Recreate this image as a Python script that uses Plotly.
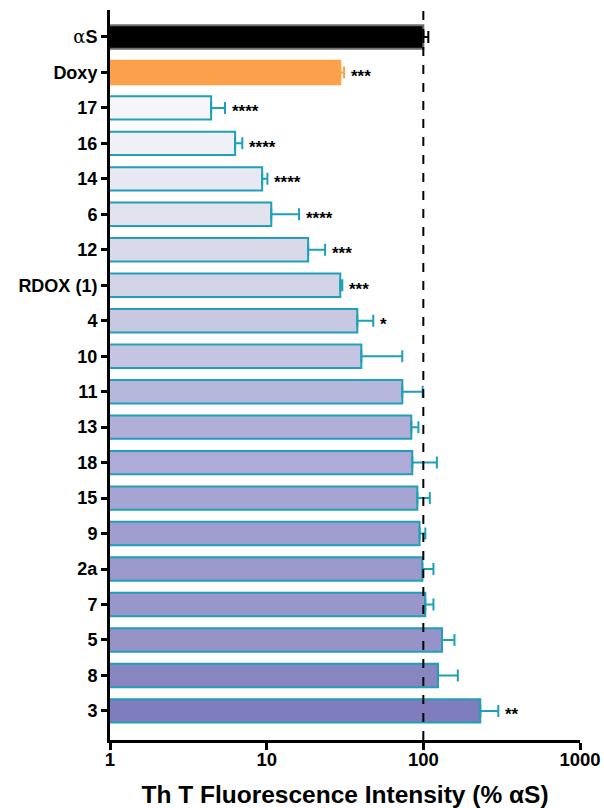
import math
import plotly.graph_objects as go

categories = ["αS", "Doxy", "17", "16", "14", "6", "12", "RDOX (1)", "4", "10",
              "11", "13", "18", "15", "9", "2a", "7", "5", "8", "3"]
values = [100, 29.5, 4.42, 6.29, 9.36, 10.7, 18.4, 29.5, 37.9, 40.2,
          73.4, 83.8, 85.0, 91.6, 94.6, 98.6, 102.9, 131.6, 124.0, 231.0]
errors_plus = [7.6, 1.7, 1.0, 0.7, 0.75, 5.4, 5.2, 0.9, 10.0, 33.2,
               25.6, 9.2, 37.0, 18.4, 8.4, 17.4, 13.1, 26.4, 42.0, 70.0]
significance = ["", "***", "****", "****", "****", "****", "***", "***", "*", "",
                "", "", "", "", "", "", "", "", "", "**"]
x_tick_values = [1, 10, 100, 1000]
x_tick_labels = ["1", "10", "100", "1000"]
x_title = "Th T Fluorescence Intensity (% αS)"

fill_colors = ["#000000", "#fba14a", "#f6f6fa", "#f0f0f7", "#e8e8f3", "#e3e3f0",
               "#d9d9ea", "#d3d3e8", "#c8c8e3", "#c5c4e2", "#b7b6db", "#b1afd8",
               "#aeabd6", "#a6a4d2", "#a09ecf", "#9b99cc", "#9896ca", "#9593c8",
               "#8985c0", "#807dbd"]
line_colors = ["#6e6e6e", "#fba14a"] + ["#1f9fb8"] * 18
err_colors = ["#000000", "#fba14a"] + ["#1f9fb8"] * 18

FONT = "Liberation Sans, Arial"
tick_text = ["<span style='font-weight:normal;font-family:DejaVu Serif'>α</span>S"] + categories[1:]

fig = go.Figure()
for i, cat in enumerate(categories):
    fig.add_trace(go.Bar(
        x=[values[i]], y=[i], orientation="h", base=0,
        marker=dict(color=fill_colors[i], line=dict(color=line_colors[i], width=2)),
        error_x=dict(type="data", symmetric=False, array=[errors_plus[i]],
                     arrayminus=[0], color=err_colors[i], thickness=2, width=6),
        width=0.66, showlegend=False, hoverinfo="skip",
    ))

for i, s in enumerate(significance):
    if s:
        fig.add_annotation(x=math.log10(values[i] + errors_plus[i]), y=i, text=s,
                           showarrow=False, xanchor="left", xshift=5, yshift=-4,
                           font=dict(family=FONT, size=17, color="#000", weight="bold"))

fig.add_shape(type="line", x0=100, x1=100, xref="x", y0=0, y1=1, yref="paper",
              line=dict(color="#000", width=2, dash="dash"), layer="above")

fig.update_layout(
    width=604, height=808,
    margin=dict(l=110, r=24, t=10, b=68),
    plot_bgcolor="white", paper_bgcolor="white",
    font=dict(family=FONT, color="#000"),
    xaxis=dict(type="log", range=[0, 3], showgrid=False, zeroline=False,
               showline=True, linecolor="#000", linewidth=3, automargin=False,
               ticks="outside", tickwidth=3, ticklen=7, tickcolor="#000",
               ticklabelstandoff=-6,
               tickvals=x_tick_values, ticktext=x_tick_labels,
               tickfont=dict(size=18.5, weight="bold", family=FONT),
               title=dict(text=x_title, standoff=17,
                          font=dict(size=24.5, weight="bold", family=FONT))),
    yaxis=dict(range=[19.82, -0.76], showgrid=False, zeroline=False,
               showline=True, linecolor="#000", linewidth=3, automargin=False,
               ticks="outside", tickwidth=3, ticklen=6, tickcolor="#000",
               tickvals=list(range(len(categories))), ticktext=tick_text,
               tickfont=dict(size=18, weight="bold", family=FONT)),
)

fig.write_html("out.html")
